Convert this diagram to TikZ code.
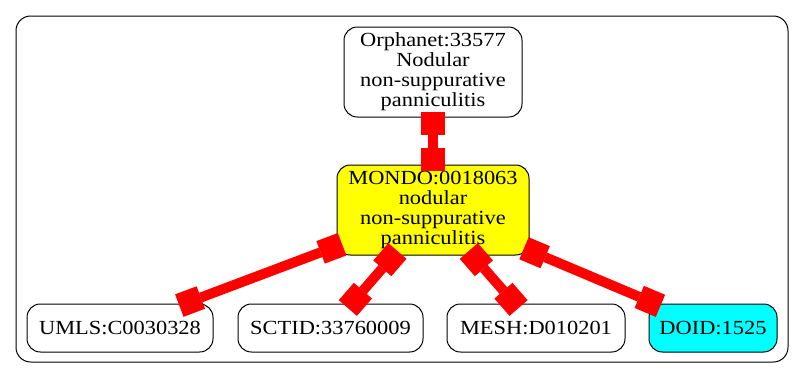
\documentclass[tikz,border=0pt]{standalone}
\usepackage{fontspec}
\setmainfont{Liberation Serif}[FakeStretch=1.12]
\usetikzlibrary{arrows.meta}
\definecolor{hubyellow}{RGB}{255,255,0}
\definecolor{leafcyan}{RGB}{0,255,255}
\definecolor{linkred}{RGB}{255,0,0}
\begin{document}
\begin{tikzpicture}[x=0.75pt,y=-0.75pt,
  term/.style={draw=black, line width=0.75pt, rounded corners=10pt, fill=white,
    align=center, inner sep=0pt, font=\fontsize{15}{15}\selectfont},
  leaf/.style={term, minimum height=36pt},
  link/.style={draw=linkred, fill=linkred, line width=7.5pt,
    {Square[length=17.25pt,width=18pt,line width=0pt]}-{Square[length=17.25pt,width=18pt,line width=0pt]},
    shorten <=-4.5pt, shorten >=-4.5pt}]
\useasboundingbox (0,0) rectangle (804,379);
% surrounding frame
\draw[line width=0.75pt, rounded corners=11pt] (16,16) rectangle (788,362);
% terms
\node[term, minimum width=133.5pt, minimum height=67.5pt] (orpha) at (433,72)
  {Orphanet:33577\\Nodular\\non-suppurative\\panniculitis};
\node[term, fill=hubyellow, minimum width=144pt, minimum height=67.5pt] (mondo) at (433,210)
  {MONDO:0018063\\nodular\\non-suppurative\\panniculitis};
\node[leaf, minimum width=139.5pt] (umls) at (120,328) {UMLS:C0030328};
\node[leaf, minimum width=138.75pt] (sctid) at (330.5,328) {SCTID:33760009};
\node[leaf, minimum width=133.5pt] (mesh) at (536,328) {MESH:D010201};
\node[leaf, fill=leafcyan, minimum width=96pt] (doid) at (713,328) {DOID:1525};
% cross-references
\draw[link] (orpha) -- (mondo);
\draw[link] (mondo) -- (umls);
\draw[link] (mondo) -- (sctid);
\draw[link] (mondo) -- (mesh);
\draw[link] (mondo) -- (doid);
\end{tikzpicture}
\end{document}
